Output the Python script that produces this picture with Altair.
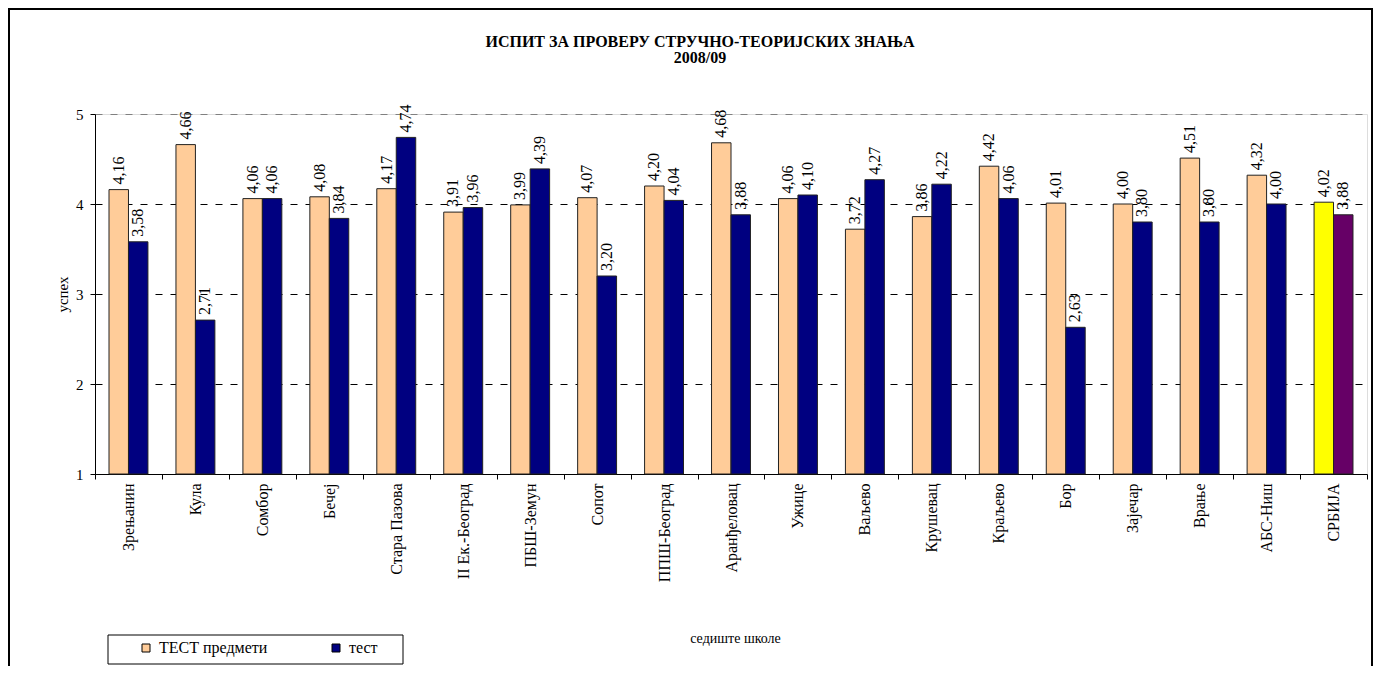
import altair as alt
import pandas as pd

categories = ["Зрењанин", "Кула", "Сомбор", "Бечеј", "Стара Пазова", "II Ек.-Београд",
              "ПБШ-Земун", "Сопот", "ППШ-Београд", "Аранђеловац", "Ужице", "Ваљево",
              "Крушевац", "Краљево", "Бор", "Зајечар", "Врање", "АБС-Ниш", "СРБИЈА"]
series_names = ["ТЕСТ предмети", "тест"]
test_predmeti = [4.16, 4.66, 4.06, 4.08, 4.17, 3.91, 3.99, 4.07, 4.20, 4.68,
                 4.06, 3.72, 3.86, 4.42, 4.01, 4.00, 4.51, 4.32, 4.02]
test_vals = [3.58, 2.71, 4.06, 3.84, 4.74, 3.96, 4.39, 3.20, 4.04, 3.88,
             4.10, 4.27, 4.22, 4.06, 2.63, 3.80, 3.80, 4.00, 3.88]
highlight = "СРБИЈА"
color_keys = ["ТЕСТ предмети", "тест", "СРБИЈА ТЕСТ предмети", "СРБИЈА тест"]
color_range = ["#FFCC99", "#000080", "#FFFF00", "#660066"]
title_lines = "ИСПИТ ЗА ПРОВЕРУ СТРУЧНО-ТЕОРИЈСКИХ ЗНАЊА\n2008/09"

rows = []
for i, c in enumerate(categories):
    for s, vals in zip(series_names, [test_predmeti, test_vals]):
        key = s if c != highlight else f"{c} {s}"
        rows.append({"category": c, "series": s, "value": vals[i], "key": key})
df = pd.DataFrame(rows)

FONT = "Liberation Serif"

x_enc = alt.X("category:N", sort=categories,
              scale=alt.Scale(paddingInner=0, paddingOuter=0),
              axis=alt.Axis(title="седиште школе", labelAngle=270, tickBand="extent",
                            labelFont=FONT, labelFontSize=16, labelColor="black",
                            labelPadding=4, tickSize=5, tickColor="black",
                            domainColor="black", titleFont=FONT, titleFontSize=14,
                            titleFontWeight="normal", titleColor="black",
                            titleX=640, titleY=164, titleBaseline="middle",
                            labelLimit=300))
xoff_enc = alt.XOffset("series:N", sort=series_names,
                       scale=alt.Scale(paddingInner=0, paddingOuter=0.72))
y_enc = alt.Y("value:Q", scale=alt.Scale(domain=[1, 5], nice=False, zero=False),
              axis=alt.Axis(values=[1, 2, 3, 4, 5], format="d", title="успех",
                            labelFont=FONT, labelFontSize=15, labelColor="black",
                            labelPadding=7, tickSize=5, tickColor="black",
                            domainColor="black", grid=True,
                            gridColor=alt.condition("datum.value == 5", alt.value("#808080"), alt.value("black")),
                            gridDash=[7, 8], gridWidth=1,
                            titleFont=FONT, titleFontSize=15, titleFontWeight="normal",
                            titleColor="black", titleX=-33, titleY=180,
                            titleAngle=270, titleBaseline="middle", titleAlign="center"))

bars = alt.Chart(df).mark_bar(stroke="#222222", strokeWidth=1).encode(
    x=x_enc,
    xOffset=xoff_enc,
    y=y_enc,
    y2=alt.datum(1),
    color=alt.Color("key:N", scale=alt.Scale(domain=color_keys, range=color_range),
                    legend=alt.Legend(values=series_names, title=None, orient="none",
                                      legendX=43, legendY=526, direction="horizontal",
                                      symbolType="square", symbolSize=64,
                                      symbolStrokeColor="black", symbolStrokeWidth=1,
                                      symbolOpacity=1, labelFont=FONT, labelFontSize=16,
                                      labelColor="black", labelOffset=5,
                                      columnPadding=60, padding=0)),
)

labels = alt.Chart(df).transform_calculate(
    label="replace(format(datum.value, '.2f'), '.', ',')"
).mark_text(angle=270, align="left", baseline="middle", dx=5, font=FONT,
            fontSize=16, color="black").encode(
    x=x_enc,
    xOffset=xoff_enc,
    y=y_enc,
    text="label:N",
)

one = pd.DataFrame({"title": [title_lines]})
frame = alt.Chart(one).mark_rect(fillOpacity=0, stroke="black", strokeWidth=2).encode(
    x=alt.value(-86), x2=alt.value(1277), y=alt.value(-105), y2=alt.value(580)
)
legend_box = alt.Chart(one).mark_rect(fillOpacity=0, stroke="black", strokeWidth=1).encode(
    x=alt.value(13), x2=alt.value(308), y=alt.value(521), y2=alt.value(550)
)
title = alt.Chart(one).mark_text(font=FONT, fontSize=16, fontWeight="bold", color="black",
                                 align="center", baseline="middle", lineBreak="\n",
                                 lineHeight=16).encode(
    x=alt.value(605), y=alt.value(-72), text="title:N"
)

chart = alt.layer(frame, bars, labels, legend_box, title).properties(
    width=1272, height=360,
    autosize=alt.AutoSizeParams(type="none"),
    padding={"left": 87, "top": 106, "right": 7, "bottom": 192},
).configure_view(stroke="#a0a0a0", strokeWidth=1).configure(background="white")

chart.save("out.html", embed_options={"renderer": "svg", "actions": False})
